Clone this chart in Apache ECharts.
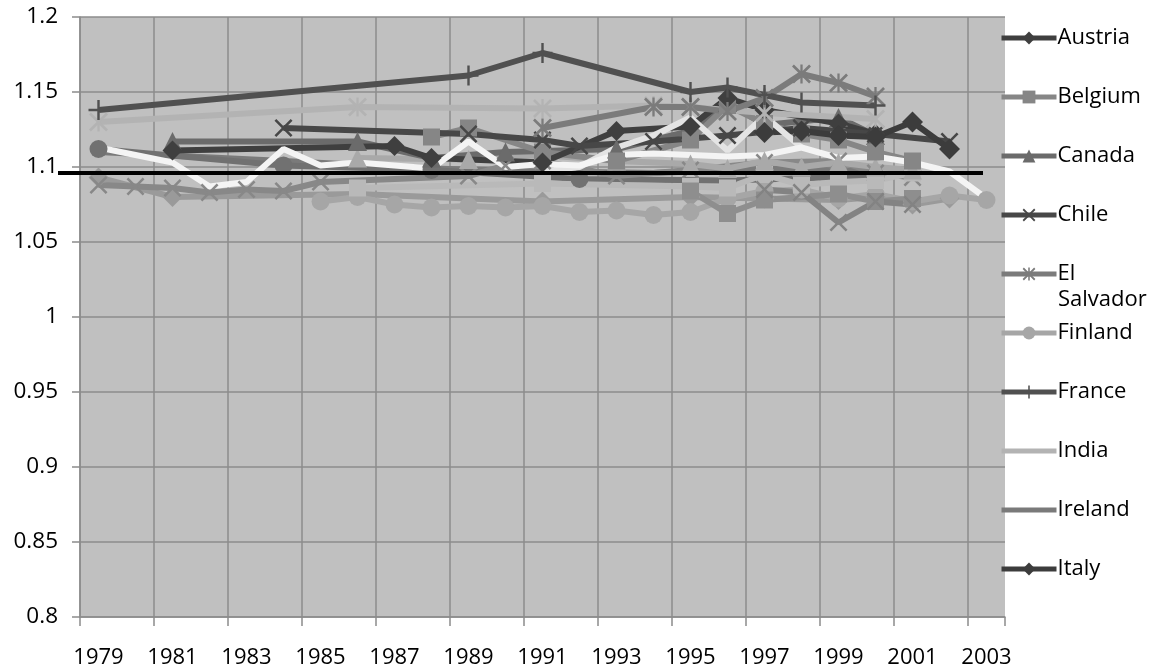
<!DOCTYPE html>
<html>
<head>
<meta charset="utf-8">
<script src="https://cdn.jsdelivr.net/npm/echarts@6/dist/echarts.min.js"></script>
<style>
  html, body { margin: 0; padding: 0; background: #ffffff; }
  #chart { width: 1156px; height: 672px; }
</style>
</head>
<body>
<div id="chart"></div>
<script>
// Categories (years) and legend entries
const years = ['1979','1980','1981','1982','1983','1984','1985','1986','1987','1988','1989','1990',
  '1991','1992','1993','1994','1995','1996','1997','1998','1999','2000','2001','2002','2003'];
const legendNames = ['Austria','Belgium','Canada','Chile','El Salvador','Finland','France','India','Ireland','Italy'];
const plainLegendNames = ['India', 'Ireland'];
const referenceLevel = 1.096;

// Series values: [year, ratio]
const austria = [[1981,1.111],[1987,1.114],[1988,1.106],[1991,1.103],[1993,1.124],[1995,1.127],[1996,1.146],[1997,1.138],[1999,1.129],[2000,1.122]];
const belgium = [[1988,1.120],[1989,1.126],[1991,1.110],[1993,1.104],[1995,1.118],[1996,1.141],[1997,1.129],[1998,1.122],[1999,1.118],[2000,1.110],[2001,1.104]];
const canada = [[1981,1.117],[1986,1.117],[1988,1.106],[1990,1.110],[1993,1.112],[1995,1.124],[1996,1.143],[1997,1.128],[1999,1.133],[2000,1.121]];
const chile = [[1984,1.126],[1989,1.122],[1991,1.118],[1992,1.114],[1994,1.117],[1996,1.121],[1998,1.126],[2000,1.122],[2002,1.117]];
const elSalvador = [[1991,1.126],[1994,1.140],[1995,1.140],[1996,1.137],[1997,1.146],[1998,1.162],[1999,1.156],[2000,1.147]];
const finland = [[1985,1.077],[1986,1.080],[1987,1.075],[1988,1.073],[1989,1.074],[1990,1.073],[1991,1.074],[1992,1.070],[1993,1.071],[1994,1.068],[1995,1.070],[1996,1.079],[1997,1.084],[1998,1.085],[1999,1.079],[2000,1.082],[2001,1.077],[2002,1.081],[2003,1.078]];
const france = [[1979,1.138],[1989,1.161],[1991,1.176],[1995,1.150],[1996,1.153],[1997,1.148],[1998,1.143],[2000,1.141]];
const india = [[1979,1.130],[1986,1.140],[1991,1.139],[1994,1.141],[1995,1.140],[1997,1.136],[2000,1.132]];
const ireland = [[1979,1.110],[1984,1.104],[1988,1.099],[1991,1.097],[1994,1.096],[1997,1.099],[2000,1.097]];
const italy = [[1997,1.123],[1998,1.124],[1999,1.121],[2000,1.120],[2001,1.130],[2002,1.112]];
const japan = [[1979,1.112],[1984,1.101],[1988,1.098],[1992,1.092],[1996,1.091],[2000,1.094]];
const korea = [[1979,1.088],[1980,1.087],[1981,1.086],[1982,1.083],[1983,1.085],[1984,1.084],[1985,1.090],[1989,1.094],[1990,1.101],[1991,1.104],[1993,1.094],[1995,1.098],[1997,1.103],[1999,1.104],[2000,1.096],[2001,1.093]];
const mexico = [[1979,1.093],[1981,1.080],[1986,1.082],[1991,1.077],[1995,1.080],[1997,1.079],[1999,1.078],[2000,1.080],[2001,1.075],[2002,1.079]];
const netherlands = [[1986,1.086],[1991,1.089],[1995,1.087],[1996,1.086],[1997,1.095],[1998,1.088],[1999,1.090],[2000,1.091],[2001,1.096]];
const norway = [[1986,1.106],[1989,1.105],[1991,1.108],[1993,1.104],[1995,1.102],[1996,1.099],[1997,1.104],[1998,1.100],[1999,1.103],[2000,1.100],[2001,1.098]];
const spain = [[1995,1.084],[1996,1.069],[1997,1.078],[1999,1.082],[2000,1.077],[2001,1.079]];
const sweden = [[1997,1.085],[1998,1.083],[1999,1.063],[2000,1.077],[2001,1.075]];
const portugal = [[1991,1.097],[1992,1.100],[1993,1.113],[1994,1.121],[1995,1.133],[1996,1.111],[1997,1.134],[1998,1.113]];
const unitedStates = [[1979,1.113],[1981,1.103],[1982,1.087],[1983,1.090],[1984,1.112],[1985,1.101],[1986,1.103],[1987,1.101],[1988,1.099],[1989,1.117],[1990,1.100],[1991,1.102],[1992,1.101],[1993,1.108],[1994,1.109],[1995,1.108],[1996,1.107],[1997,1.108],[1998,1.113],[1999,1.106],[2000,1.107],[2001,1.103],[2002,1.097],[2003,1.079]];

// Marker shapes
const SYM_X = 'path://M0,1L1,0L5,4L9,0L10,1L6,5L10,9L9,10L5,6L1,10L0,9L4,5Z';
const SYM_PLUS = 'path://M4.4,0H5.6V4.4H10V5.6H5.6V10H4.4V5.6H0V4.4H4.4Z';
const SYM_STAR = 'path://M0,1L1,0L5,4L9,0L10,1L6,5L10,9L9,10L5,6L1,10L0,9L4,5ZM4.4,0H5.6V10H4.4Z';

// Drawing order, colour and marker of each line
const seriesSpec = [
  { name: 'Ireland', data: ireland, color: '#7a7a7a', symbol: 'none', size: 0 },
  { name: 'Japan', data: japan, color: '#717171', symbol: 'circle', size: 18 },
  { name: 'Mexico', data: mexico, color: '#9a9a9a', symbol: 'diamond', size: 20 },
  { name: 'Korea', data: korea, color: '#888888', symbol: SYM_X, size: 18 },
  { name: 'Finland', data: finland, color: '#a6a6a6', symbol: 'circle', size: 18 },
  { name: 'Netherlands', data: netherlands, color: '#b9b9b9', symbol: 'rect', size: 17 },
  { name: 'Spain', data: spain, color: '#8e8e8e', symbol: 'rect', size: 17 },
  { name: 'Sweden', data: sweden, color: '#838383', symbol: SYM_X, size: 18 },
  { name: 'Norway', data: norway, color: '#a9a9a9', symbol: 'triangle', size: 19 },
  { name: 'Canada', data: canada, color: '#6b6b6b', symbol: 'triangle', size: 19 },
  { name: 'Belgium', data: belgium, color: '#868686', symbol: 'rect', size: 17 },
  { name: 'Austria', data: austria, color: '#3f3f3f', symbol: 'diamond', size: 20 },
  { name: 'Chile', data: chile, color: '#474747', symbol: SYM_X, size: 18 },
  { name: 'India', data: india, color: '#b3b3b3', symbol: SYM_STAR, size: 19 },
  { name: 'El Salvador', data: elSalvador, color: '#7b7b7b', symbol: SYM_STAR, size: 19 },
  { name: 'Italy', data: italy, color: '#3c3c3c', symbol: 'diamond', size: 21 },
  { name: 'Portugal', data: portugal, color: '#e4e4e4', symbol: 'none', size: 0 },
  { name: 'United States', data: unitedStates, color: '#f4f4f4', symbol: 'none', size: 0 },
  { name: 'France', data: france, color: '#505050', symbol: SYM_PLUS, size: 20 }
];

const FONT = '"Open Sans", "Noto Sans", sans-serif';
const LEGEND_TOP = 27;
const LEGEND_STEP = 59;

const chart = echarts.init(document.getElementById('chart'), null, { renderer: 'canvas' });

const option = {
  animation: false,
  backgroundColor: '#ffffff',
  grid: { left: 80, right: 151, top: 17, bottom: 55, show: true, backgroundColor: '#c0c0c0', borderWidth: 0 },
  legend: {
    data: legendNames.map(n => (plainLegendNames.includes(n)
      ? { name: n, itemStyle: { opacity: 0 } }
      : { name: n })),
    orient: 'vertical',
    left: 999,
    top: LEGEND_TOP,
    itemWidth: 55,
    itemHeight: 16,
    itemGap: LEGEND_STEP - 22,
    padding: 0,
    selectedMode: false,
    lineStyle: { width: 5 },
    formatter: n => (n === 'El Salvador' ? 'El' : n),
    textStyle: { fontFamily: FONT, fontSize: 22, lineHeight: 22, color: '#000000', padding: [0, 0, 0, -4] }
  },
  xAxis: {
    type: 'category',
    data: years,
    boundaryGap: true,
    axisLine: { show: true, lineStyle: { color: '#8c8c8c', width: 1.5 } },
    axisTick: { show: true, interval: 1, length: 9, lineStyle: { color: '#8c8c8c', width: 1.5 } },
    axisLabel: { interval: 1, margin: 30, fontFamily: FONT, fontSize: 22, color: '#000000' },
    splitLine: { show: true, interval: 1, showMaxLine: false, lineStyle: { color: '#8c8c8c', width: 1.5 } }
  },
  yAxis: {
    type: 'value',
    min: 0.8,
    max: 1.2,
    interval: 0.05,
    axisLine: { show: true, lineStyle: { color: '#8c8c8c', width: 1.5 } },
    axisTick: { show: true, length: 8, lineStyle: { color: '#8c8c8c', width: 1.5 } },
    axisLabel: {
      margin: 22, fontFamily: FONT, fontSize: 22.5, color: '#000000',
      formatter: v => String(parseFloat(v.toFixed(2)))
    },
    splitLine: { show: true, lineStyle: { color: '#8c8c8c', width: 1.5 } }
  },
  series: seriesSpec.map(s => ({
    name: s.name,
    type: 'line',
    data: s.data.map(p => [String(p[0]), p[1]]),
    symbol: s.symbol,
    symbolSize: s.size,
    showSymbol: s.symbol !== 'none',
    lineStyle: { color: s.color, width: 6 },
    itemStyle: { color: s.color, borderWidth: 0 },
    emphasis: { disabled: true }
  }))
};

chart.setOption(option);

// Horizontal reference line at the shared level, running from the label column across the plot
const refY = chart.convertToPixel({ yAxisIndex: 0 }, referenceLevel);
// Second line of the wrapped "El Salvador" legend label
const elIndex = legendNames.indexOf('El Salvador');
const elCenterY = LEGEND_TOP + elIndex * LEGEND_STEP + 11;
chart.setOption({
  graphic: [
    { type: 'line', z: 100, shape: { x1: 58, y1: refY, x2: 983, y2: refY }, style: { stroke: '#000000', lineWidth: 4 } },
    { type: 'text', z: 100, x: 1058, y: elCenterY + 26,
      style: { text: 'Salvador', fontFamily: FONT, fontSize: 22, fill: '#000000', verticalAlign: 'middle', align: 'left' } }
  ]
});
</script>
</body>
</html>
